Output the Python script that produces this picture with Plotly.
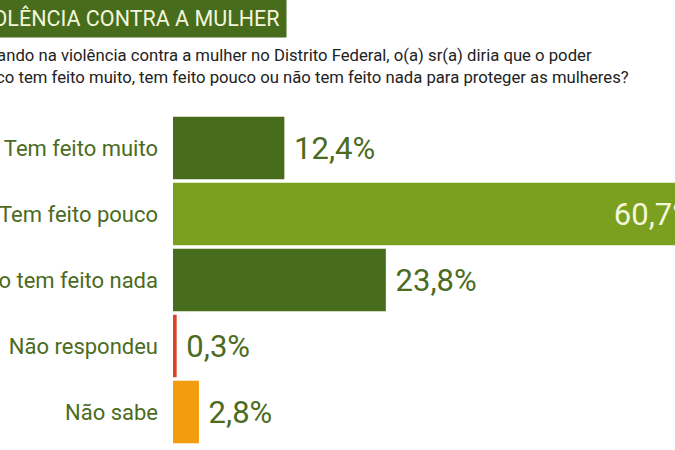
import plotly.graph_objects as go

# respostas e percentuais
categorias = ['Tem feito muito', 'Tem feito pouco', 'Não tem feito nada', 'Não respondeu', 'Não sabe']
percentuais = [12.4, 60.7, 23.8, 0.3, 2.8]
cores = ['#476c1b', '#7b9f1f', '#476c1b', '#d8462a', '#f39c0d']

titulo = 'VIOLÊNCIA CONTRA A MULHER'
pergunta = ('Pensando na violência contra a mulher no Distrito Federal, o(a) sr(a) diria que o poder<br>'
            'público tem feito muito, tem feito pouco ou não tem feito nada para proteger as mulheres?')

FONTE = 'Roboto, sans-serif'
VERDE_TEXTO = '#4b6b22'

# área do gráfico em pixels: começa em x=173, vai até a borda direita
L, R, T, B = 173, 0, 115, 5
W, H = 675, 450
pw, ph = W - L - R, H - T - B

def px_x(p):
    return (p - L) / pw

def px_y(p):
    return (H - B - p) / ph

rotulos = [('%.1f%%' % v).replace('.', ',') for v in percentuais]
# o maior valor fica dentro da barra, os outros fora
posicoes = ['inside' if v > 50 else 'outside' for v in percentuais]
textos = [r + '\u00a0\u00a0' if p == 'inside' else '\u00a0' + r for r, p in zip(rotulos, posicoes)]
cores_texto = ['#f4f6dc' if p == 'inside' else VERDE_TEXTO for p in posicoes]

fig = go.Figure(go.Bar(
    x=percentuais, y=categorias, orientation='h',
    marker=dict(color=cores, line=dict(color=cores, width=2)),
    text=textos, textposition=posicoes, insidetextanchor='end',
    textfont=dict(family=FONTE, size=31, color=cores_texto),
    cliponaxis=True,
))

fig.update_layout(
    width=W, height=H,
    margin=dict(l=L, r=R, t=T, b=B, autoexpand=False),
    paper_bgcolor='white', plot_bgcolor='white',
    bargap=0.08, showlegend=False,
    font=dict(family=FONTE, color=VERDE_TEXTO),
    xaxis=dict(range=[0, 56.4], visible=False, automargin=False),
    yaxis=dict(autorange='reversed', showgrid=False, zeroline=False, showline=False,
               ticks='', ticklabelstandoff=14, automargin=False,
               tickfont=dict(family=FONTE, size=22, color=VERDE_TEXTO)),
)

fig.add_annotation(
    xref='paper', yref='paper', x=px_x(287), y=px_y(38), xanchor='right', yanchor='bottom',
    text=titulo, showarrow=False, bgcolor='#476c1b', borderpad=6,
    font=dict(family=FONTE, size=21.5, color='#f4f6dc'),
)
fig.add_annotation(
    xref='paper', yref='paper', x=px_x(-42), y=px_y(44), xanchor='left', yanchor='top',
    text=pergunta, showarrow=False, align='left',
    font=dict(family=FONTE, size=16.7, color='#222222'),
)

fig.write_html('out.html', config={'displayModeBar': False},
               post_script="document.body.style.margin='0';")
